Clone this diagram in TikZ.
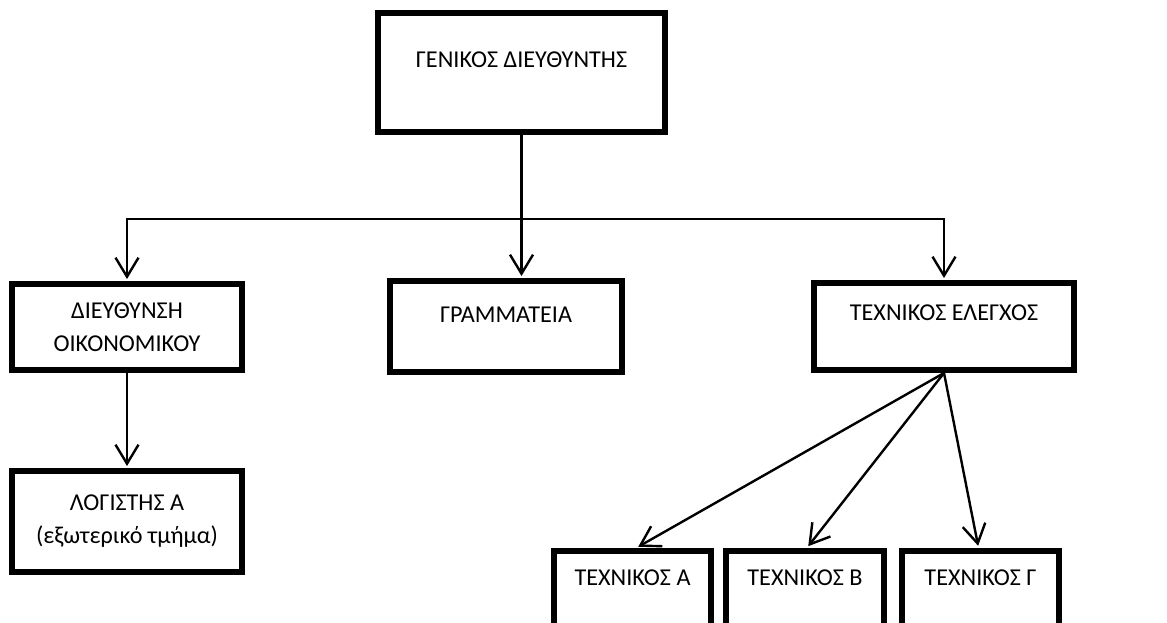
\documentclass[tikz,border=0pt]{standalone}
\usepackage{fontspec}
\setmainfont{Carlito}
\usetikzlibrary{arrows.meta,positioning}
\definecolor{boxline}{HTML}{000000}
\tikzset{
  barb/.tip={Straight Barb[length=19pt,width=23pt]},
  unitbox/.style={draw=boxline, line width=6pt, fill=white, align=center, inner sep=0pt, font=\fontsize{24.2}{33}\selectfont},
  link/.style={boxline, line width=2.4pt, -barb, shorten >=2pt},
  linkboth/.style={boxline, line width=2.4pt, barb-barb, shorten >=2pt, shorten <=2pt}
}

\begin{document}
\begin{tikzpicture}[x=1pt,y=-1pt]
  \clip (0,0) rectangle (1167,623);
  \node[unitbox, minimum width=287pt, text height=54.5pt, text depth=64.5pt] (gd) at (521.5,72.5) {ΓΕΝΙΚΟΣ ΔΙΕΥΘΥΝΤΗΣ};
  \node[unitbox, minimum width=230pt, minimum height=86pt] (fin) at (127,327) {ΔΙΕΥΘΥΝΣΗ\\ΟΙΚΟΝΟΜΙΚΟΥ};
  \node[unitbox, minimum width=232pt, text height=41.5pt, text depth=49.5pt] (sec) at (506,326.5) {ΓΡΑΜΜΑΤΕΙΑ};
  \node[unitbox, minimum width=260pt, text height=37.5pt, text depth=49.5pt] (tech) at (944,326.5) {ΤΕΧΝΙΚΟΣ ΕΛΕΓΧΟΣ};
  \node[unitbox, minimum width=230pt, minimum height=101pt] (acc) at (127,521.5) {ΛΟΓΙΣΤΗΣ Α\\(εξωτερικό τμήμα)};
  \node[unitbox, minimum width=157pt, text height=34.5pt, text depth=100pt] (techA) at (632.5,618) {ΤΕΧΝΙΚΟΣ Α};
  \node[unitbox, minimum width=158pt, text height=34.5pt, text depth=100pt] (techB) at (805,618) {ΤΕΧΝΙΚΟΣ Β};
  \node[unitbox, minimum width=157pt, text height=34.5pt, text depth=100pt] (techG) at (980.5,618) {ΤΕΧΝΙΚΟΣ Γ};
  \coordinate (bus) at (600,219);
  \draw[link] (gd.south) -- (gd.south |- sec.north);
  \draw[linkboth] (fin.north) |- (bus) -| (tech.north);
  \draw[link] (fin.south) -- (acc.north);
  \draw[link] (tech.south) -- ([xshift=4pt]techA.north);
  \draw[link] (tech.south) -- ([xshift=2pt]techB.north);
  \draw[link] (tech.south) -- ([xshift=-2pt]techG.north);
\end{tikzpicture}
\end{document}
